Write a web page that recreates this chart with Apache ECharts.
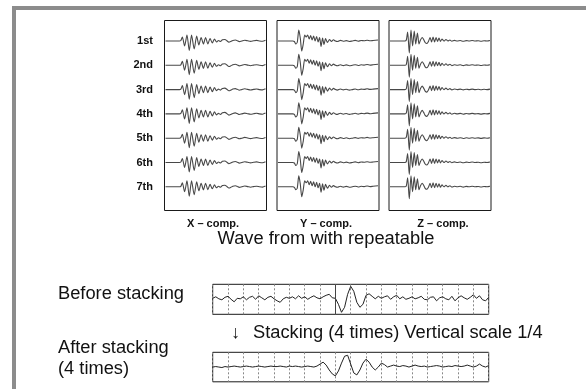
<!DOCTYPE html>
<html>
<head>
<meta charset="utf-8">
<script src="https://cdn.jsdelivr.net/npm/echarts@6/dist/echarts.min.js"></script>
<style>
  html, body { margin: 0; padding: 0; background: #fff; }
  #chart { width: 586px; height: 389px; }
</style>
</head>
<body>
<div id="chart"></div>
<script>
// row / component labels
var rowLabels = ['1st', '2nd', '3rd', '4th', '5th', '6th', '7th'];
var compLabels = ['X \u2013 comp.', 'Y \u2013 comp.', 'Z \u2013 comp.'];

// one recorded trace per component, [time, amplitude]
var xComp = [[0,0],[14,0],[15.5,0.5],[17,4],[19.3,-5],[21.7,6],[24,-9.5],[26.3,6],[29,-8],[31.5,5],
    [33.7,-4],[36,3.5],[38.3,-3],[40.5,3.5],[42.8,-3],[45,2.5],[47.3,-2],[49.5,2],[51.5,-1],[53.5,0.5],
    [55.5,-0.5],[57.5,1.2],[60,1.5],[62,0.3],[64,-1.2],[66,-0.5],[68,0.5],[70.5,1],[72.5,0.3],[74.5,-0.6],
    [77,0],[80,0.8],[83,0.2],[86,-0.4],[89,0.2],[92,0.6],[95,0],[98,-0.3],[101,0.8]];
var yComp = [[0,0],[15,0],[16.5,-0.5],[18,-3],[19.5,-1],[21,11],[22.5,3],[24,-10],[25.5,-3],[27,6],[28.5,4],
    [30,6],[31.5,2],[33,5.5],[34.5,1],[36,5],[37.5,0],[39,4.5],[40.5,-1],[42,3.5],[43.5,-5.5],[45,3],
    [46.5,-3.5],[48,2.5],[50,-1.5],[52,1.5],[54,-0.5],[56,1.2],[58,0],[60,-0.5],[63,0.6],[66,-0.3],[69,0.4],
    [72,-0.5],[75,0],[78,0.6],[81,-0.2],[84,0.5],[87,0.2],[90,0.8],[93,0.2],[96,0.5],[101,1]];
var zComp = [[0,0],[15,0],[16.5,1],[17.8,9],[19.5,-12],[21.2,11],[22.8,-5],[24.5,10],[26,-3],[27.7,8],[29.3,-3],
    [30.8,1],[32.5,3.5],[34,1.5],[35.5,-1.5],[37.3,-2.5],[39,0],[40.5,3.5],[42,-1],[43.5,4],[45,-1],[46.5,3.5],
    [48,-0.5],[49.5,3],[51,-0.5],[52.5,2],[54.5,0],[56.5,1.5],[58.5,0],[60.5,1],[62.5,-0.3],[65,0.6],[68,0],
    [71,0.5],[74,-0.3],[77,0.4],[80,0],[83,0.5],[86,0],[89,0.3],[92,-0.2],[95,0.3],[98,0],[101,0.5]];
var compTraces = [xComp, yComp, zComp];

// stacking records, one value every 2 time units
var beforeStack = [1,2.5,0.5,-0.5,2,3,0,-2.5,1,0.5,2.5,-0.5,2,3,0,3.5,1.5,-0.5,2,3,0.5,-1.5,-3,0.5,2,1,
    2.5,0.5,3.5,1,2.5,0,2,3.5,1.5,0.5,2.5,4,5,1.5,1,-5,-13,-8,5,13,8,-3,-8,-5,4,5.5,3,0.5,3,1,2.5,3.5,0,
    2.5,4,0.5,2.5,0,1,2.5,0.5,1.5,3,0,-0.5,2,2.5,-1.5,1.5,2.5,0.5,-0.5,3,-1.5,1.5,3.5,1.5,0,2,4.5,1,3.5,
    -0.5,-1.5,2];
var afterStack = [0,0.5,0,-0.5,0.5,0,0.5,1,0.5,0,0.5,1,0.5,0,0.5,1,0.5,0,0.5,1,0.5,0.5,1,0.5,0,1,0.5,1,
    0.5,0,0.5,1,0.5,0,1,3,5,2,-3,-7,-9,-4,4,11,12,3,-6,-8,-3,4,8,5,0,-3,0,4,2.5,0,1,2,1,0.5,1.5,1,0,1,2,1,
    0.5,1,0,0.5,1,1.5,1,0,0.5,1,0.5,1.5,1,0.5,1,2,1,0,1,3,1,0,1.5];

var panelLeft = [164.5, 277, 389];
var panelWidth = 102;
var panelTop = 20.5, panelHeight = 190;
var rowBase = 41, rowStep = 24.3;

var grid = [], xAxis = [], yAxis = [], series = [], graphic = [];

function addGrid(g, xa, ya) {
    var idx = grid.length;
    grid.push(g);
    xa.gridIndex = idx; ya.gridIndex = idx;
    xAxis.push(xa); yAxis.push(ya);
    return idx;
}

// panel frames and traces
for (var c = 0; c < 3; c++) {
    addGrid({left: panelLeft[c], top: panelTop, width: panelWidth, height: panelHeight, show: true,
            borderColor: '#1a1a1a', borderWidth: 1, backgroundColor: 'transparent'},
        {type: 'value', show: false, min: 0, max: 1},
        {type: 'value', show: false, min: 0, max: 1});
    for (var r = 0; r < rowLabels.length; r++) {
        var gi = addGrid({left: panelLeft[c] + 1, top: rowBase + r * rowStep - 12, width: panelWidth - 2, height: 24},
            {type: 'value', show: false, min: 0, max: 101},
            {type: 'value', show: false, min: -12, max: 12});
        series.push({type: 'line', xAxisIndex: gi, yAxisIndex: gi, data: compTraces[c], symbol: 'none',
            smooth: 0.25, clip: false, lineStyle: {color: '#484848', width: 1.1}, silent: true});
    }
    graphic.push({type: 'text', x: [213, 326, 443][c], y: 224,
        style: {text: compLabels[c], font: 'bold 11px "Liberation Sans", Arial', fill: '#111',
            textAlign: 'center', textVerticalAlign: 'middle'}});
}

for (var r = 0; r < rowLabels.length; r++) {
    graphic.push({type: 'text', x: 153, y: rowBase + r * rowStep,
        style: {text: rowLabels[r], font: 'bold 11px "Liberation Sans", Arial', fill: '#111',
            textAlign: 'right', textVerticalAlign: 'middle'}});
}

// stacking boxes
var boxes = [{top: 284.3, height: 30, data: beforeStack}, {top: 352.3, height: 29.5, data: afterStack}];
boxes.forEach(function (b, i) {
    var gi = addGrid({left: 212.7, top: b.top, width: 276, height: b.height, show: true,
            borderColor: '#1a1a1a', borderWidth: 1, backgroundColor: 'transparent'},
        {type: 'value', min: 0, max: 180, interval: 10, axisLine: {show: false}, axisTick: {show: false},
            axisLabel: {show: false}, splitLine: {show: true, lineStyle: {color: '#888', type: [2, 2], width: 1}}},
        {type: 'value', show: false, min: -15, max: 15});
    var s = {type: 'line', xAxisIndex: gi, yAxisIndex: gi, symbol: 'none', clip: false,
        data: b.data.map(function (v, k) { return [k * 2, v]; }),
        lineStyle: {color: '#222', width: 1}, silent: true};
    if (i === 0) {
        s.markLine = {symbol: 'none', silent: true, label: {show: false},
            lineStyle: {color: '#444', type: 'solid', width: 1}, data: [{xAxis: 80}]};
    }
    series.push(s);
});

var bigFont = '18.3px "Liberation Sans", Arial';
graphic.push(
    {type: 'rect', shape: {x: 14, y: 8, width: 640, height: 420},
        style: {fill: 'none', stroke: '#8c8c8c', lineWidth: 4}},
    {type: 'text', x: 326, y: 239.2, style: {text: 'Wave from with repeatable', font: bigFont, fill: '#111',
        textAlign: 'center', textVerticalAlign: 'middle'}},
    {type: 'text', x: 58, y: 293.7, style: {text: 'Before stacking', font: bigFont, fill: '#111',
        textAlign: 'left', textVerticalAlign: 'middle'}},
    {type: 'text', x: 231, y: 333, style: {text: '\u2193', font: bigFont, fill: '#111',
        textAlign: 'left', textVerticalAlign: 'middle'}},
    {type: 'text', x: 253, y: 333, style: {text: 'Stacking (4 times) Vertical scale 1/4', font: bigFont, fill: '#111',
        textAlign: 'left', textVerticalAlign: 'middle'}},
    {type: 'text', x: 58, y: 347.8, style: {text: 'After stacking', font: bigFont, fill: '#111',
        textAlign: 'left', textVerticalAlign: 'middle'}},
    {type: 'text', x: 58, y: 368.8, style: {text: '(4 times)', font: bigFont, fill: '#111',
        textAlign: 'left', textVerticalAlign: 'middle'}}
);

var chart = echarts.init(document.getElementById('chart'), null, {renderer: 'canvas'});
chart.setOption({
    animation: false,
    backgroundColor: '#fff',
    grid: grid,
    xAxis: xAxis,
    yAxis: yAxis,
    series: series,
    graphic: graphic
});
</script>
</body>
</html>
